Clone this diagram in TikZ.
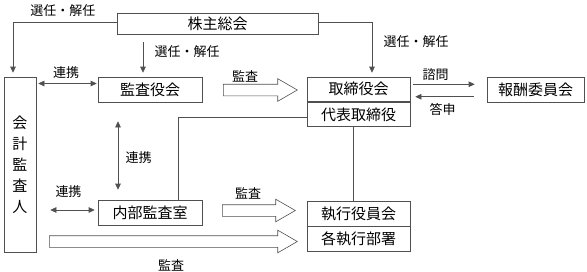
\documentclass[tikz,border=0pt]{standalone}
\usepackage{fontspec}
\setmainfont{Noto Sans CJK JP}
\usetikzlibrary{arrows.meta, positioning, shapes.arrows, calc}
\definecolor{LineGray}{HTML}{505050}

\begin{document}
\begin{tikzpicture}[
    x=1pt, y=-1pt,
    box/.style={rectangle, draw=LineGray, line width=0.6pt, inner sep=0pt, align=center, font=\fontsize{15}{21}\selectfont},
    lbl/.style={inner sep=0pt, font=\fontsize{13}{15}\selectfont},
    arrow/.style={-{Triangle[length=6pt, width=5.5pt]}, line width=0.6pt, LineGray},
    dblarrow/.style={{Triangle[length=6pt, width=5.5pt]}-{Triangle[length=6pt, width=5.5pt]}, line width=0.6pt, LineGray},
    link/.style={line width=0.6pt, LineGray},
    audit/.style={single arrow, draw=LineGray, line width=0.6pt, inner sep=5.5pt, minimum width=22pt, single arrow head extend=5.5pt, single arrow tip angle=60, anchor=west},
]
\useasboundingbox (0,0) rectangle (587,271);

% Boxes
\node[box, minimum width=201pt, minimum height=21pt] (soukai) at (217.5,23.5) {株主総会};
\node[box, minimum width=32pt, minimum height=175pt] (kaikei) at (20,164.5) {会\\計\\監\\査\\人};
\node[box, minimum width=104pt, minimum height=25pt] (kansa) at (150,89.5) {監査役会};
\node[box, minimum width=104pt, minimum height=25pt] (naibu) at (150,212.5) {内部監査室};
\node[box, minimum width=103pt, minimum height=24.5pt] (torishimari) at (358.5,89.25) {取締役会};
\node[box, minimum width=103pt, minimum height=24.5pt, below=0pt of torishimari] (daihyo) {代表取締役};
\node[box, minimum width=97pt, minimum height=25pt] (houshu) at (535.5,89.5) {報酬委員会};
\node[box, minimum width=103pt, minimum height=25pt] (shikko) at (358.5,213.5) {執行役員会};
\node[box, minimum width=103pt, minimum height=25pt, below=0pt of shikko] (kaku) {各執行部署};

% Appointment
\draw[arrow, shorten >=4pt] ([yshift=1.5pt]soukai.west) -| ([xshift=-7pt]kaikei.north);
\coordinate (sel) at (143,42);
\draw[arrow, shorten >=4pt] (sel) -- (sel |- kansa.north);
\draw[arrow, shorten >=4pt] ([yshift=1.5pt]soukai.east) -| ([xshift=13.5pt]torishimari.north);
\node[lbl] (sel1) at (63,11) {選任・解任};
\node[lbl] (sel2) at (187,52) {選任・解任};
\node[lbl] (sel3) at (416,42) {選任・解任};

% Cooperation
\draw[dblarrow, shorten <=2pt, shorten >=1pt] ([yshift=6pt]kaikei.east |- kansa.west) -- ([yshift=6pt]kansa.west);
\draw[dblarrow, shorten <=19pt, shorten >=10pt] ([xshift=-32pt]kansa.south) -- ([xshift=-32pt]naibu.north);
\draw[dblarrow, shorten <=14pt, shorten >=3pt] ([yshift=2.5pt]naibu.west -| kaikei.east) -- ([yshift=2.5pt]naibu.west);
\node[lbl] (coop1) at (66,73) {連携};
\node[lbl] (coop2) at (138.5,158) {連携};
\node[lbl] (coop3) at (68.5,192) {連携};

% Consultation
\draw[arrow, shorten <=3pt, shorten >=12pt] ([yshift=5pt]torishimari.east) -- ([yshift=5pt]torishimari.east -| houshu.west);
\draw[arrow, shorten <=13pt, shorten >=5pt] ([yshift=-7.5pt]torishimari.east -| houshu.west) -- ([yshift=-7.5pt]torishimari.east);
\node[lbl] (ask) at (435.5,75) {諮問};
\node[lbl] (reply) at (442.5,109) {答申};

% Reporting lines
\draw[link] ([yshift=-2.5pt]daihyo.west) -| ([xshift=28pt]naibu.north);
\draw[link] ([xshift=-5.5pt]daihyo.south) -- ([xshift=-5.5pt]shikko.north);

% Audit arrows
\node[audit, minimum height=74pt] (audit1) at (223,90) {};
\node[audit, minimum height=73pt] (audit2) at (222,210.5) {};
\node[audit, minimum height=248pt] (audit3) at (49,241.5) {};
\node[lbl] (aud1) at (245,76) {監査};
\node[lbl] (aud2) at (248,193) {監査};
\node[lbl] (aud3) at (171,265) {監査};

\end{tikzpicture}
\end{document}
